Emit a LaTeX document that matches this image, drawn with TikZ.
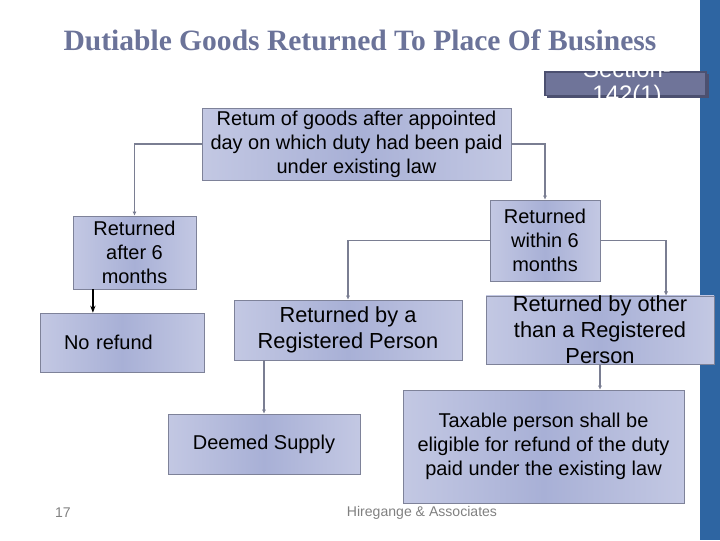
\documentclass[tikz,border=0pt]{standalone}
\usepackage{fontspec}
\setmainfont{Liberation Sans}
\newfontfamily\titlefont{Liberation Serif}
\usetikzlibrary{arrows.meta}
\definecolor{bar-blue}{HTML}{2E65A2}
\definecolor{title-grey}{HTML}{6B7399}
\definecolor{box-edge}{HTML}{7E8299}
\definecolor{box-mid}{HTML}{A8B0D6}
\definecolor{box-side}{HTML}{C3C8E3}
\definecolor{sec-fill}{HTML}{6F7499}
\definecolor{sec-dark}{HTML}{4C5070}
\definecolor{line-grey}{HTML}{7A7E92}

\begin{document}
\begin{tikzpicture}[x=0.025cm, y=-0.025cm,
          every node/.style={font=\fontsize{14.2}{17}\selectfont, align=center, inner sep=0pt},
          flowbox/.style={draw=box-edge, left color=box-side, right color=box-side,
              middle color=box-mid},
          bigtext/.style={font=\fontsize{15.5}{18.5}\selectfont},
          conn/.style={draw=line-grey, line width=1pt, -{Latex[length=3pt, width=3pt]}}]
        % Slide: title, section tag, decision tree of boxes, footer.
        % Coordinates: pixels of the 720x540 slide, y downwards
        \useasboundingbox (0,0) rectangle (720,540);
        \fill[bar-blue] (700,0) rectangle (720,540);
        \node[text=title-grey, font=\titlefont\bfseries\fontsize{21}{24}\selectfont]
              (title) at (360,40) {Dutiable Goods Returned To Place Of Business};
        % section tag, its text cut at the edges
        \fill[sec-dark] (547,74) rectangle (709,98);
        \filldraw[fill=sec-fill, draw=sec-dark, line width=0.8pt] (545,72) rectangle (706,95.5);
        \begin{scope}
          \clip (540,66) rectangle (712,100);
          \node[text=white, font=\fontsize{17}{18}\selectfont]
                (sec) at (627,84) {Section-\\142(1)};
        \end{scope}
        % boxes
        \node[flowbox, minimum width=309*0.025cm, minimum height=72*0.025cm]
              (top) at (356.5,144) {Retum of goods after appointed\\day on which duty had been paid\\under existing law};
        \node[flowbox, minimum width=123*0.025cm, minimum height=73*0.025cm]
              (after) at (134.5,252.5) {Returned\\after 6\\months};
        \node[flowbox, minimum width=110*0.025cm, minimum height=81*0.025cm]
              (within) at (545,240.5) {Returned\\within 6\\months};
        \node[flowbox, minimum width=164*0.025cm, minimum height=59*0.025cm,
              text width=116*0.025cm, align=left]
              (norefund) at (122,342.5) {No refund};
        \node[flowbox, bigtext, minimum width=228*0.025cm, minimum height=60*0.025cm]
              (regp) at (348,330) {Returned by a\\Registered Person};
        \node[flowbox, bigtext, minimum width=228*0.025cm, minimum height=60*0.025cm]
              (other) at (600,330) {Returned by other\\than a Registered\\Person};
        \node[flowbox, minimum width=192*0.025cm, minimum height=60*0.025cm]
              (deemed) at (264,444) {Deemed Supply};
        \node[flowbox, minimum width=281*0.025cm, minimum height=113*0.025cm]
              (taxable) at (543.5,446.5) {Taxable person shall be\\eligible for refund of the duty\\paid under the existing law};
        % connectors
        \draw[conn] (top.west) -| (after.north);
        \draw[conn] (top.east) -| (within.north);
        \draw[conn] (within.west) -| (regp.north);
        \draw[conn] (within.east) -| ([xshift=1.65cm]other.north);
        \draw[conn] ([xshift=-2.1cm]regp.south) -- ([xshift=-2.1cm]regp.south |- deemed.north);
        \draw[conn] (other.south) -- (other.south |- taxable.north);
        \draw[-{Stealth[length=5pt]}, line width=1.4pt, black]
              ([xshift=-1.04cm]after.south) -- ([xshift=-1.04cm]after.south |- norefund.north);
        % footer
        \node[text=gray, font=\fontsize{10}{12}\selectfont] (pagenum) at (63,513) {17};
        \node[text=gray, font=\fontsize{10}{12}\selectfont] (firm) at (422,513) {Hiregange \& Associates};
      \end{tikzpicture}
\end{document}
